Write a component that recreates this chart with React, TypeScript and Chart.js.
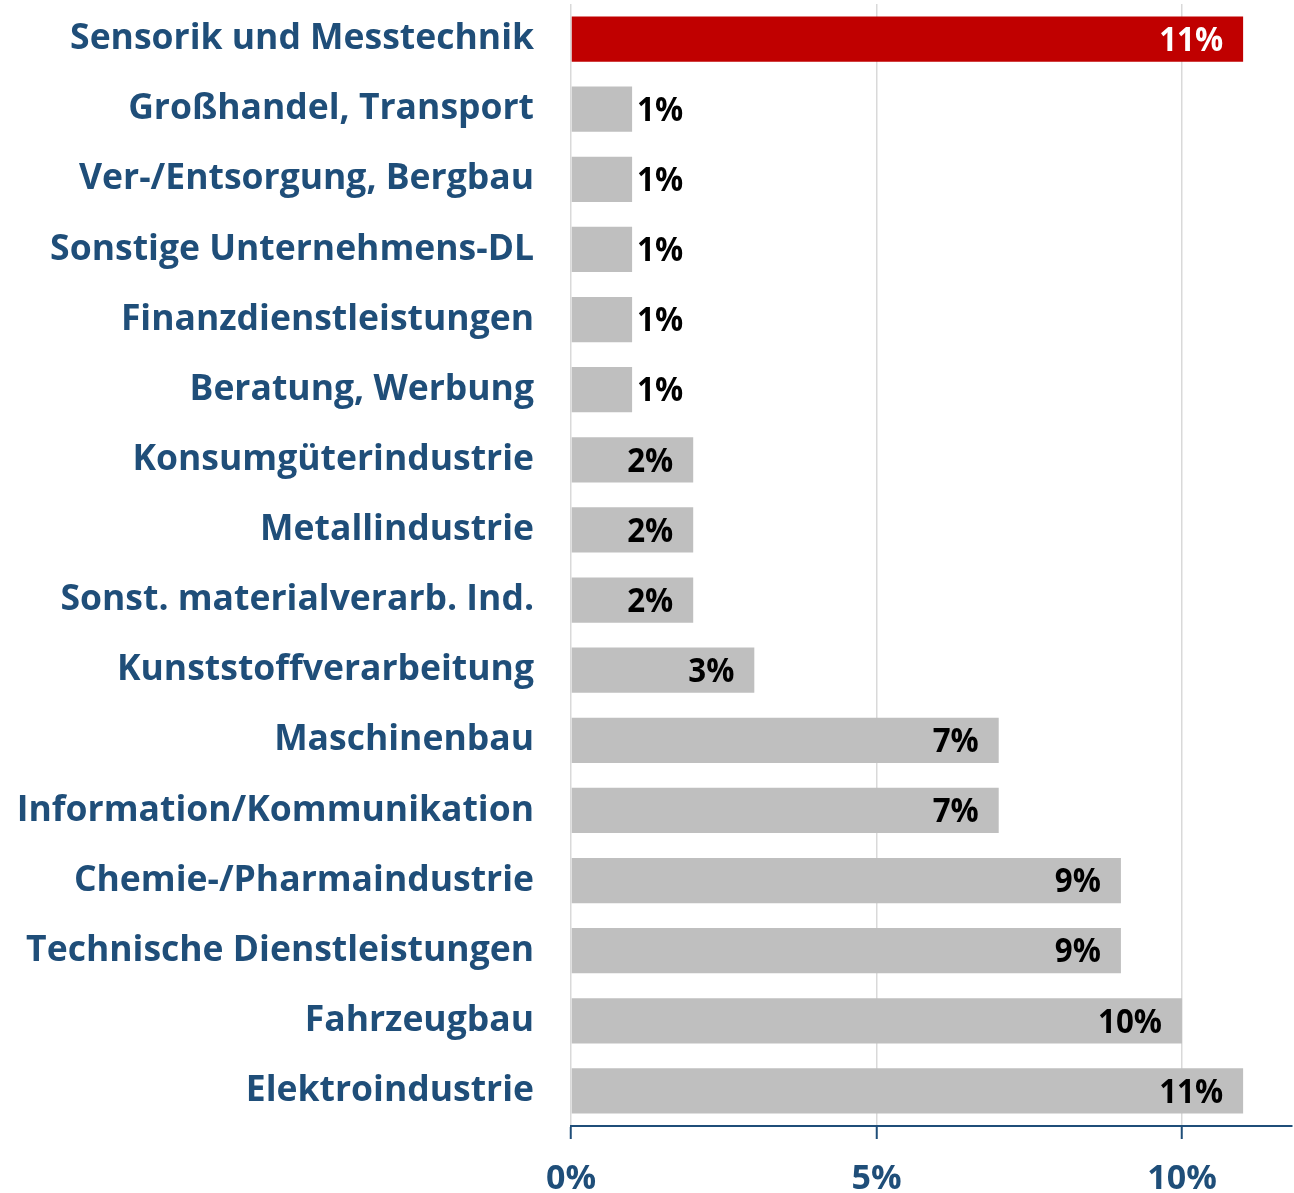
import React, { useEffect, useRef } from "react";
import { Chart, registerables } from "chart.js";

Chart.register(...registerables);

const categories = [
  "Sensorik und Messtechnik",
  "Großhandel, Transport",
  "Ver-/Entsorgung, Bergbau",
  "Sonstige Unternehmens-DL",
  "Finanzdienstleistungen",
  "Beratung, Werbung",
  "Konsumgüterindustrie",
  "Metallindustrie",
  "Sonst. materialverarb. Ind.",
  "Kunststoffverarbeitung",
  "Maschinenbau",
  "Information/Kommunikation",
  "Chemie-/Pharmaindustrie",
  "Technische Dienstleistungen",
  "Fahrzeugbau",
  "Elektroindustrie",
];

const values = [11, 1, 1, 1, 1, 1, 2, 2, 2, 3, 7, 7, 9, 9, 10, 11];
const highlightIndex = 0;
const xTickValues = [0, 5, 10];

const BLUE = "#1F4E79";
const RED = "#C00000";
const GRAY = "#BFBFBF";

const labelPlugin = {
  id: "barLabels",
  afterDatasetsDraw(chart: any) {
    const ctx = chart.ctx;
    const meta = chart.getDatasetMeta(0);
    ctx.save();
    ctx.font = "bold 34px 'Open Sans'";
    ctx.textBaseline = "middle";
    meta.data.forEach((bar: any, i: number) => {
      const v = values[i];
      const text = v + "%";
      const sx = 0.92;
      const w = ctx.measureText(text).width * sx;
      let x: number;
      if (v >= 2) {
        x = bar.x - 20 - w;
      } else {
        x = bar.x + 5;
      }
      ctx.fillStyle = i === highlightIndex ? "#FFFFFF" : "#000000";
      ctx.save();
      ctx.translate(x, bar.y + 2);
      ctx.scale(sx, 1);
      ctx.textAlign = "left";
      ctx.fillText(text, 0, 0);
      ctx.restore();
    });
    ctx.restore();
  },
};

export default function App() {
  const ref = useRef<HTMLCanvasElement>(null);
  useEffect(() => {
    if (!ref.current) return;
    const chart = new Chart(ref.current, {
      type: "bar",
      data: {
        labels: categories,
        datasets: [
          {
            data: values,
            backgroundColor: values.map((_, i) => (i === highlightIndex ? RED : GRAY)),
            barPercentage: 0.645,
            categoryPercentage: 1,
          },
        ],
      },
      options: {
        indexAxis: "y",
        animation: false,
        responsive: false,
        maintainAspectRatio: false,
        layout: { padding: { top: 4, right: 2, bottom: -26, left: 0 } },
        plugins: { legend: { display: false }, tooltip: { enabled: false } },
        scales: {
          x: {
            min: 0,
            max: 11.8,
            afterBuildTicks(scale: any) {
              scale.ticks = xTickValues.map((v) => ({ value: v }));
            },
            grid: {
              color: "#D9D9D9",
              lineWidth: 1.5,
              tickColor: BLUE,
              tickLength: 13,
              tickWidth: 2,
            },
            border: { color: BLUE, width: 2 },
            ticks: {
              color: BLUE,
              font: { family: "'Open Sans'", weight: "bold", size: 34, lineHeight: 1 },
              padding: 23,
              callback: (v: any) => v + "%",
            },
          },
          y: {
            afterFit(scale: any) {
              scale.width = 571;
              scale.paddingTop = 0;
              scale.paddingBottom = 0;
            },
            grid: { display: false, drawTicks: false },
            border: { display: false },
            ticks: {
              color: BLUE,
              font: { family: "'Open Sans'", weight: "bold", size: 35.5 },
              padding: 37,
            },
          },
        },
      },
      plugins: [labelPlugin],
    } as any);
    return () => chart.destroy();
  }, []);
  return (
    <div style={{ position: "absolute", left: 0, top: 0, width: 1294, height: 1193, background: "#fff" }}>
      <canvas ref={ref} width={1294} height={1193} style={{ width: 1294, height: 1193 }} />
    </div>
  );
}
